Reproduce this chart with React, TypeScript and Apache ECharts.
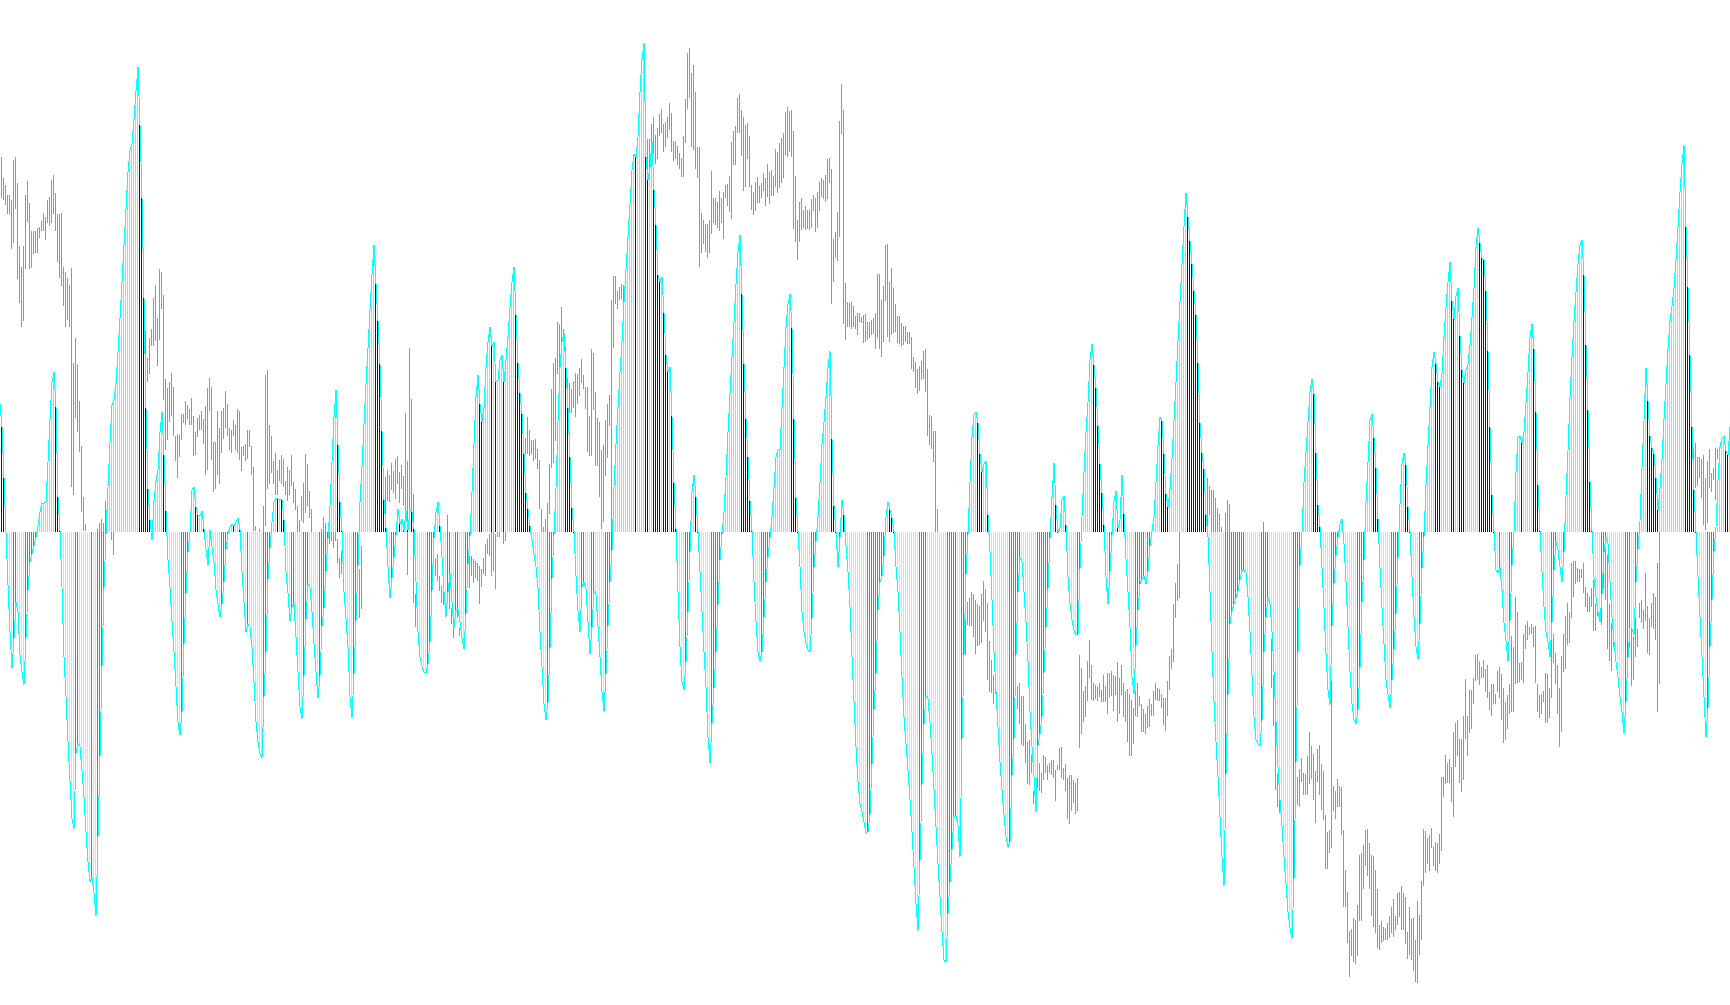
import React, { useEffect, useRef } from "react";
import * as echarts from "echarts";

// Oscillator values, one per bar (100 per block).
const hist0 = [128,105,54,-1,-53,-100,-136,-106,-70,-80,-123,-140,-153,-106,-58,-30,-22,-13,-5,6,20,29,29,30,70,113,150,160,125,35,1,-55,-125,-165,-210,-249,-287,-297,-221,-211,-215,-238,-266,-300,-330,-350,-345,-361,-384,-305,-224,-134,-56,-2,45,90,127,133,149,180,214,250,287,323,360,382,388,413,441,465,407,334,234,124,43,12,-8,31,51,62,100,120,77,21,-28,-55,-90,-120,-155,-190,-203,-180,-112,-61,-20,0,42,45,25,17];
const hist1 = [17,21,3,-18,-33,2,-15,-30,-58,-72,-85,-72,-50,-17,-2,5,8,6,10,14,2,-40,-70,-100,-92,-96,-115,-150,-190,-210,-222,-226,-165,-120,-47,-16,10,30,34,33,33,32,12,-40,-61,-89,-75,-72,-105,-140,-175,-187,-144,-87,-52,-56,-80,-112,-140,-166,-144,-94,-76,-39,-6,26,70,115,142,87,30,1,-60,-86,-115,-165,-186,-142,-89,-34,30,66,108,148,184,222,258,287,248,211,168,101,32,4,-35,-66,-46,-25,-3,23];
const hist2 = [8,13,1,21,2,22,20,3,-50,-100,-125,-135,-140,-141,-132,-110,-59,-6,20,30,6,-25,-60,-84,-60,-42,-70,-95,-78,-78,-90,-106,-117,-82,-32,-4,40,88,135,157,128,110,125,165,190,205,186,190,150,152,172,177,150,172,195,225,250,265,217,169,139,118,78,39,23,6,-8,-22,-35,-56,-100,-135,-172,-188,-171,-116,-47,-3,44,110,165,190,199,164,124,75,24,0,-44,-79,-100,-55,-50,-57,-90,-122,-95,-59,-63,-94];
const hist3 = [-125,-160,-179,-142,-94,-50,-19,45,88,125,160,190,230,262,295,328,362,378,375,395,440,473,489,375,352,365,390,342,307,257,250,255,219,177,160,165,116,49,3,-60,-115,-150,-158,-130,-80,-20,40,57,35,0,-40,-80,-120,-155,-205,-231,-191,-156,-120,-73,-28,-2,20,55,100,138,175,210,248,280,297,238,168,113,75,31,1,-50,-90,-120,-129,-120,-85,-50,-25,-5,15,45,75,82,83,125,165,205,228,238,204,113,34,0];
const hist4 = [-35,-80,-100,-112,-118,-119,-87,-35,-9,15,50,88,110,135,165,181,93,26,0,-35,-5,32,17,-14,-40,-75,-125,-170,-215,-250,-272,-280,-290,-302,-300,-283,-233,-177,-141,-78,-50,-44,-24,15,30,22,14,0,-35,-60,-100,-145,-185,-212,-238,-268,-300,-335,-372,-399,-329,-253,-192,-164,-167,-190,-222,-258,-295,-332,-365,-400,-428,-431,-381,-350,-317,-284,-284,-294,-325,-207,-123,-42,-3,50,95,118,120,109,78,60,68,71,17,-20,-68,-120,-160,-195];
const hist5 = [-230,-258,-283,-305,-315,-310,-243,-207,-123,-60,-25,-30,-60,-90,-130,-180,-215,-245,-280,-213,-202,-185,-141,-95,-57,-6,35,69,27,0,5,32,36,7,-45,-72,-88,-98,-103,-102,-37,15,60,100,130,172,188,167,144,106,68,39,7,-45,-72,-39,-3,30,41,4,12,57,18,-27,-60,-95,-145,-162,-113,-78,-52,-47,-44,-52,-39,-14,1,14,50,86,115,111,78,38,25,43,74,112,150,191,230,268,306,339,315,291,268,241,217,169];
const hist6 = [109,79,63,17,-5,-60,-120,-170,-210,-245,-285,-325,-354,-242,-163,-92,-79,-72,-66,-59,-48,-38,-38,-41,-65,-100,-143,-185,-208,-212,-214,-189,-120,-85,-66,-72,-100,-140,-190,-235,-268,-294,-325,-352,-380,-396,-407,-347,-230,-120,-33,0,50,80,110,140,153,138,79,27,5,-36,-76,-122,-158,-173,-94,-51,-23,-5,8,13,-12,-50,-95,-140,-172,-188,-192,-178,-135,-70,-28,30,70,112,118,94,64,13,-36,-76,-112,-148,-163,-176,-148,-117,-82,-26];
const hist7 = [28,68,79,67,25,0,-45,-85,-115,-127,-92,-36,-5,47,87,125,165,180,168,150,145,158,195,225,250,270,231,213,236,244,196,162,149,162,168,187,215,244,285,304,289,274,272,241,181,105,37,0,-38,-41,-35,-58,-91,-109,-129,-89,-33,0,60,95,96,89,100,130,160,195,208,183,120,47,1,-40,-75,-100,-110,-125,-91,-38,-9,-18,-35,-50,-20,36,81,134,175,211,240,268,287,292,257,187,122,50,1,-45,-65,-80];
const hist8 = [-90,-62,-20,-5,-12,-50,-85,-110,-130,-145,-165,-180,-201,-170,-125,-95,-97,-103,-50,-17,11,64,111,164,131,96,84,78,54,22,44,73,113,148,183,211,226,244,273,305,340,368,387,305,245,177,105,42,0,-45,-85,-125,-165,-205,-176,-115,-68,-19,5,52,85,94,96,81,77,105];

// Price range per bar, flat high,low pairs; a run starts at its bar number.
const greenA = [375,334,354,332,347,327,337,318,337,318,332,283,372,289,375,323,349,253,286,229,265,205,286,211,337,263,351,310,329,263,301,264,301,278,301,279,304,279,305,294,311,301,319,301,315,292,332,309,335,306,352,309,357,318,339,301,318,270,318,254,319,246,265,226,260,205,254,212,247,205,264,45,169,37,194,114,168,100,131,80,86,20,35,1,8,1];
const greenB = [3,0,9,0,13,0,9,0,31,0];
const greenC = [0,-8,0,-23];
const greenD = [201,155,174,150,194,158,203,186,234,186,247,191,214,166,263,192,260,223,237,132,153,82,144,92,150,110,159,116,145,96,96,71,98,54,97,75,118,92,118,109,131,107,127,113,123,107,134,107,116,76,100,77,114,95,117,102,121,102,113,88,126,57,144,62,154,121,145,72,90,40,90,43,121,57,104,48,121,79,124,93,141,104,128,96,104,82,102,79,112,96,107,82,123,79,121,72,85,61,86,76,88,71,102,73,102,85,86,57,65,1,6,1];
const greenE = [3,0];
const greenF = [26,0,157,6,162,43,107,48,96,59,71,48,79,37,62,37,72,51,77,48,73,45,51,37,65,31,62,37,77,46,50,29,43,22,26,0,12,0,36,11,49,9,78,19,68,26,41,14,23,0];
const greenG = [3,0,15,0,9,0];
const greenH = [0,-12,0,-9,0,-16,0,-9,-7,-31,-26,-46,-19,-42];
const greenI = [-14,-56,-37,-86,-14,-77];
const greenJ = [55,17,62,31,57,30,69,42,61,39,73,33,76,48,60,29,67,43,56,26,119,21,71,-43,184,9,133,14,38,-71,-62,-95];
const greenK = [-26,-44,-22,-49,-44,-59,-54,-71,-55,-73,-70,-85,17,-35,-47,-77,-76,-92,-89,-106,-77,-86,-77,-86,-96,-104];
const greenL = [-24,-56,-24,-44,-27,-51,-29,-46,-31,-49,-34,-72,-37,-55,-26,-42,-12,-44,-7,-22,-2,-24,0,-44,0,-39,-2,-57,0,-5,0,-5];
const greenM = [0,-12,0,-9];
const greenN = [94,78,115,78,102,76,92,78,92,71,93,73,83,63,72,23,23,0,5,0,13,0,29,0,68,18,143,64,169,69,174,91,210,158,208,141,225,184,203,164,185,155,154,126,149,119,143,119,151,124,159,115,158,128,164,136,173,149,157,143,145,123,145,80,116,76,183,76,179,122,140,66,114,66,110,35,82,3,87,10,112,56,128,74,137,106,232,0,256,184,256,228,241,223,245,232,248,233,247,223,258,243,289,278];
const greenO = [393,352,393,356,408,367,415,378,397,368,404,373,418,396,423,399,408,380,410,385,415,394,429,402,419,380,391,371,391,373,386,367,379,363,374,355,396,355,433,389,479,423,484,434,459,385,467,382,440,363,385,354,385,265,319,279,312,288,308,280,308,274,312,279,361,298,334,309,334,307,330,304,341,301,334,309,340,293,347,334,348,326,356,320,390,313,401,367,406,367,434,399,438,399,422,376,415,341,407,345,409,373,396,345,347,322,340,317,350,321,355,329,346,329,349,334,359,341,354,326,368,335,360,328,362,336,356,336,383,345,380,339,389,344,394,349,399,354,420,377,425,375,421,380,422,375,401,303,356,290,312,272];
const greenP = [330,290,334,302,322,304,326,302,322,303,322,302,333,304,337,321,334,300,340,304,350,321,354,335,352,333,357,330,373,333,374,349,363,228,293,250,300,274,320,271,411,295,448,398,422,208,249,192,230,205,229,205,230,203,226,205,216,203,219,197,219,210,215,209,217,189,218,190,210,192,210,194];
const greenQ = [212,197,214,198,219,183,258,194,258,183,232,175,246,190,287,231,288,195,250,190,264,197,244,199,228,200,216,189,216,188,209,186,206,187,206,190,200,188,200,188,195,163,175,160,170,144,163,138,166,141,171,152,181,153,183,140,163,96,117,87,116,83,101,70,101,0,23,0];
const greenR = [-88,-123,-70,-93,-66,-94,-60,-94,-62,-105,-68,-122,-72,-114,-74,-113,-62,-111,-49,-89,-57,-100,-71,-148,-109,-160,-128,-161,-143,-172,-148,-162];
const greenS = [-154,-177,-151,-192,-164,-213,-164,-214,-192,-231,-210,-252,-208,-253,-223,-241,-259,-272,-228,-272,-213,-256,-231,-259,-241,-261,-223,-248,-225,-241,-233,-248,-231,-241,-228,-243,-228,-246,-238,-269,-233,-238,-216,-238,-215,-246,-236,-248,-232,-259,-246,-287,-243,-292,-243,-279,-248,-271,-251,-282,-246,-279,-123,-216,-136,-202,-159,-190,-154,-185,-129,-169,-108,-146,-133,-168,-151,-169,-153,-167,-155,-169,-151,-165,-158,-170,-143,-170,-154,-170,-141,-182,-141,-165,-139,-164,-143,-179,-144,-163,-130,-190,-146,-182,-133,-163,-151,-185,-159,-190,-157,-210,-162,-224,-168,-224,-176,-212,-159,-184,-151,-185,-164,-174,-172,-200,-177,-200,-182,-202,-174,-196,-167,-195,-172,-184,-159,-184,-151,-168,-156,-169,-157,-169,-162,-176,-166,-193,-166,-199,-149,-184,-124,-158,-117,-137,-72,-130,-51,-86,-32,-69,0,-66];
const greenT = [54,0,46,17,42,0,42,0,34,0,24,0,18,0,5,0];
const greenU = [19,0,32,0,28,0];
const greenV = [10,0];
const greenW = [-107,-156,-143,-194,-180,-258,-242,-275,-255,-281];
const greenX = [-245,-273,-237,-275,-226,-250,-241,-263,-242,-263,-224,-263,-200,-252,-214,-247,-222,-268,-239,-291,-217,-250,-213,-263,-232,-278,-239,-288,-283,-337,-300,-337,-298,-321,-149,-316,-254,-279,-259,-287,-247,-275,-254,-275,-255,-303,-298,-375,-338,-375,-360,-411,-399,-445,-397,-424,-386,-430,-388,-432,-373,-424,-323,-389,-321,-389,-313,-357,-298,-334,-297,-344,-311,-357,-323,-384,-324,-395,-338,-401,-357,-416,-393,-418,-389,-411,-395,-409,-396,-408,-391,-408,-384,-406,-375,-401,-367,-405,-384,-398,-361,-393,-360,-385,-354,-398,-361,-398,-365,-412,-400,-427,-375,-423,-387,-428,-386,-439,-408,-450,-369,-451,-383,-423,-349,-408,-297,-354,-299,-341,-306,-332,-303,-339,-296,-316,-315,-334,-310,-339,-311,-341,-302,-332,-245,-319,-245,-265,-223,-252,-231,-251,-227,-251,-235,-270,-200,-285,-191,-235,-188,-224,-207,-251,-207,-260,-184,-248,-147,-207,-184,-224,-158,-201,-158,-197,-146,-172,-123,-149,-122,-148,-129,-153,-135,-146,-128,-146,-137,-160,-133,-166,-160,-178,-152,-184,-152,-172,-162,-172,-139,-160,-135,-166,-142,-188,-156,-211,-170,-208,-163,-197,-152,-182,-104,-180,-115,-180,-65,-152,-80,-151,-131,-150,-130,-148,-102,-151,-93,-117,-89,-108,-95,-103,-92,-102,-95,-115,-94,-151,-152,-180,-163,-186,-162,-182,-159,-170,-141,-191,-142,-191,-156,-186,-103,-166,-102,-131,-121,-152,-133,-182,-156,-215,-124,-200,-102,-140,-84,-137,-71,-113,-80,-111,-31,-86,-29,-65,-29,-52,-36,-50,-37,-50,-37,-46,-31,-61,-55,-75,-61,-80,-65,-80,-56,-75,-48,-99,-72,-99,-76,-84,-76,-90,-74,-93,-13,-57,-17,-68,-23,-117,-72,-129,-91,-139,-84,-115,-91,-125,-107,-114];
const greenY = [-104,-125,-109,-115,-91,-154,-105,-148,-86,-125,-97,-115,-71,-86,-68,-91,-78,-97,-41,-89,-74,-121,-86,-123,-71,-95,-61,-97,-65,-108,-31,-180,0,-152];
const greenZ = [83,71,89,44,75,46,75,54,73,34,77,7,54,2,71,9,83,44,59,40,64,52,84,32,83,73];

const histBlocks = [hist0, hist1, hist2, hist3, hist4, hist5, hist6, hist7, hist8];
const greenRuns: [number, number[]][] = [
  [1, greenA], [49, greenB], [56, greenC], [73, greenD], [130, greenE], [132, greenF],
  [161, greenG], [165, greenH], [179, greenI], [193, greenJ], [218, greenK], [235, greenL],
  [252, greenM], [263, greenN], [324, greenO], [400, greenP], [436, greenQ], [483, greenR],
  [509, greenS], [604, greenT], [613, greenU], [632, greenV], [636, greenW], [649, greenX],
  [814, greenY], [847, greenZ],
];

const GOLD = "#FFD700", BLUE = "#0000FF", DODGER = "#1E90FF", PALE = "#AFEEEE", CYAN = "#00FFFF", GREEN = "#00FF00";

export default function App() {
  const ref = useRef<HTMLDivElement>(null);
  useEffect(() => {
    const chart = echarts.init(ref.current!, undefined, { renderer: "svg" });
    const values: [number, number, string][] = [];
    histBlocks.forEach((block, b) => {
      block.forEach((v, k) => {
        const i = b * 100 + k;
        const prev = k > 0 ? block[k - 1] : b > 0 ? histBlocks[b - 1][99] : v;
        const rising = v >= prev;
        const color = v >= 0 ? (rising ? GOLD : BLUE) : rising ? DODGER : PALE;
        values.push([i, v, color]);
      });
    });
    const greens: [number, number, number][] = [];
    greenRuns.forEach(([start, flat]) => {
      for (let k = 0; k + 1 < flat.length; k += 2) greens.push([start + k / 2, flat[k], flat[k + 1]]);
    });

    const barItem = (_: any, api: any) => {
      const i = api.value(0);
      const a = api.coord([i, api.value(1)]);
      const b = api.coord([i, api.value(2)]);
      return {
        type: "rect",
        shape: { x: Math.round(a[0]) - 1, y: Math.round(a[1]), width: 1, height: Math.max(1, Math.round(b[1]) - Math.round(a[1])) },
        style: { fill: GREEN },
      };
    };
    const histItem = (_: any, api: any) => {
      const i = api.value(0);
      const v = api.value(1);
      const a = api.coord([i, v]);
      const o = api.coord([i, 0]);
      const top = Math.round(Math.min(a[1], o[1]));
      const bottom = Math.round(Math.max(a[1], o[1]));
      return {
        type: "rect",
        shape: { x: Math.round(a[0]) - 1, y: top, width: 1, height: Math.max(1, bottom - top) },
        style: { fill: values[i][2] },
      };
    };

    chart.setOption({
      animation: false,
      grid: { left: 0, right: 0, top: 0, bottom: 0 },
      xAxis: { type: "value", min: 0, max: 865, show: false },
      yAxis: { type: "value", min: -473, max: 532, show: false, scale: true },
      series: [
        { type: "custom", z: 1, data: greens, renderItem: barItem, encode: { x: 0, y: [1, 2] }, progressive: 0, silent: true },
        { type: "custom", z: 2, data: values.map((d) => [d[0], d[1]]), renderItem: histItem, encode: { x: 0, y: 1 }, progressive: 0, silent: true },
        {
          type: "line", z: 3, data: values.map((d) => [d[0], d[1]]), showSymbol: false, symbol: "none", silent: true,
          lineStyle: { color: CYAN, width: 1 }, clip: true,
        },
      ],
    });
    return () => chart.dispose();
  }, []);
  return (
    <>
      <style>{"html,body{margin:0;background:#fff} svg path,svg rect{shape-rendering:crispEdges}"}</style>
      <div ref={ref} style={{ position: "absolute", left: 0, top: 0, width: 1730, height: 1005 }} />
    </>
  );
}
